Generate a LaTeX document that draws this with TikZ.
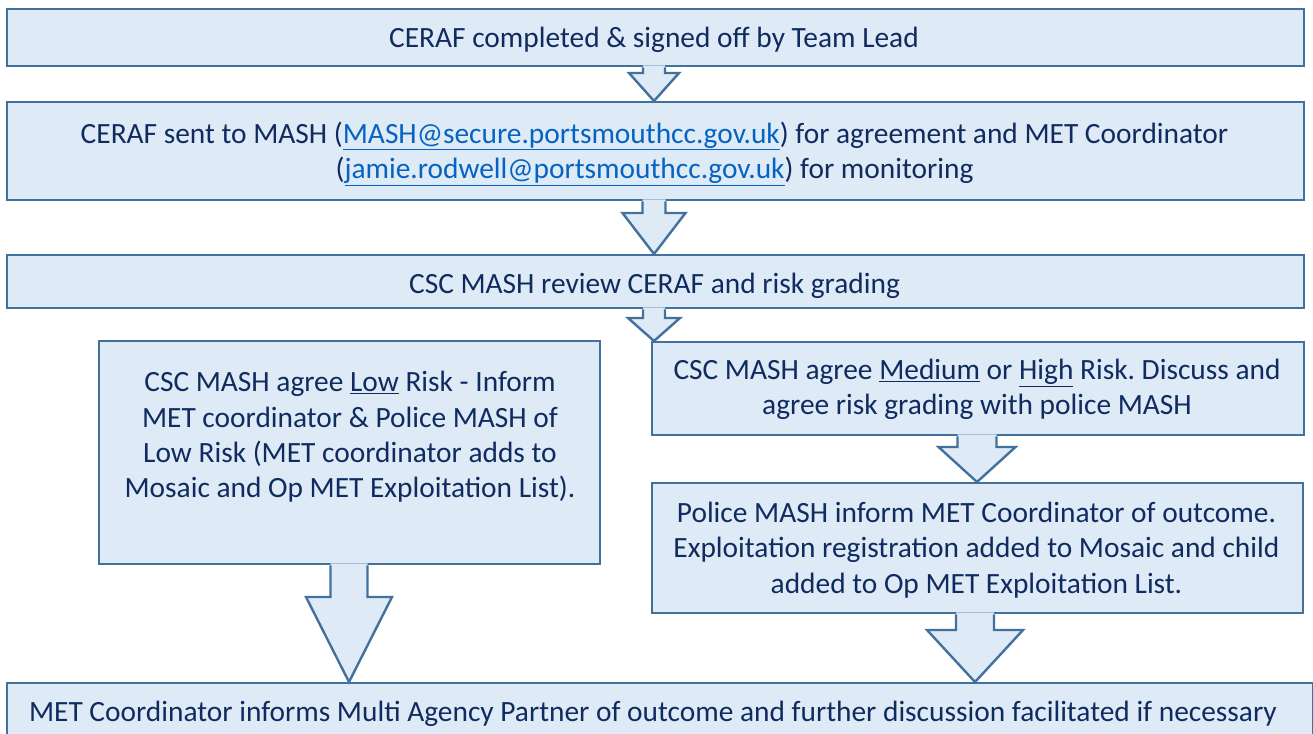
\documentclass[tikz,border=0pt]{standalone}
\usepackage{fontspec}
\setmainfont{Carlito}
\frenchspacing
\definecolor{boxfill}{HTML}{DEEAF6}
\definecolor{boxline}{HTML}{41719C}
\definecolor{navy}{HTML}{0F2B5F}
\definecolor{linkblue}{HTML}{0563C1}
\newcommand\lnk[1]{\textcolor{linkblue}{\underline{#1}}}
\newcommand\blockarr[7]{% from, to, cx, shaft half, head half, head y
  \fill[boxfill] (#3-#4,0 |- #1.south) ++(0,-2) -- (#3-#4,#6) -- (#3-#5,#6) -- (#3,0 |- #2.north) -- (#3+#5,#6) -- (#3+#4,#6) -- (#3+#4,0 |- #1.south) -- ++(0,-2) -- cycle;
  \draw[arrline] (#3-#4,0 |- #1.south) -- (#3-#4,#6) -- (#3-#5,#6) -- (#3,0 |- #2.north) -- (#3+#5,#6) -- (#3+#4,#6) -- (#3+#4,0 |- #1.south);
}
\tikzset{
  flowbox/.style={draw=boxline, fill=boxfill, line width=2.4bp, rectangle, anchor=north west, inner sep=0pt},
  boxtext/.style={inner sep=0pt, align=center, text=navy, font=\fontsize{29.5}{35.5}\selectfont},
  arrline/.style={draw=boxline, line width=2.4bp, line join=miter}
}
\begin{document}
\begin{tikzpicture}[x=1bp,y=-1bp]
\useasboundingbox (0,0) rectangle (1313,733);
\node[flowbox, minimum width=1297bp, minimum height=57bp] (b1) at (6,8) {};
\node[flowbox, minimum width=1297bp, minimum height=98bp] (b2) at (6,101) {};
\node[flowbox, minimum width=1297bp, minimum height=53bp] (b3) at (6,254) {};
\node[flowbox, minimum width=501bp, minimum height=223bp] (b4) at (98,340) {};
\node[flowbox, minimum width=652bp, minimum height=93bp] (b5) at (651,341) {};
\node[flowbox, minimum width=651bp, minimum height=130bp] (b6) at (651,482) {};
\node[flowbox, minimum width=1306bp, minimum height=64bp] (b7) at (6,682) {};
\node[boxtext] (t1) at (654,40) {CERAF completed \& signed off by Team Lead};
\node[boxtext] (t2) at (654.5,153.5) {CERAF sent to MASH (\lnk{MASH@secure.portsmouthcc.gov.uk}) for agreement and MET Coordinator\\(\lnk{jamie.rodwell@portsmouthcc.gov.uk}) for monitoring};
\node[boxtext] (t3) at (654.5,286) {CSC MASH review CERAF and risk grading};
\node[boxtext] (t4) at (350,437) {CSC MASH agree \underline{Low} Risk - Inform\\MET coordinator \& Police MASH of\\Low Risk (MET coordinator adds to\\Mosaic and Op MET Exploitation List).};
\node[boxtext] (t5) at (977,389.5) {CSC MASH agree \underline{Medium} or \underline{High} Risk. Discuss and\\agree risk grading with police MASH};
\node[boxtext] (t6) at (976.5,550) {Police MASH inform MET Coordinator of outcome.\\Exploitation registration added to Mosaic and child\\added to Op MET Exploitation List.};
\node[boxtext] (t7) at (653,714) {MET Coordinator informs Multi Agency Partner of outcome and further discussion facilitated if necessary};
\blockarr{b1}{b2}{654}{11}{25}{73}{}
\blockarr{b2}{b3}{654}{11.5}{31.5}{213}{}
\blockarr{b3}{b5}{654}{11}{26}{318}{}
\blockarr{b5}{b6}{977}{19.5}{38.5}{447}{}
\blockarr{b4}{b7}{349}{18.5}{43}{597}{}
\blockarr{b6}{b7}{975}{19}{48}{630}{}
\end{tikzpicture}
\end{document}
